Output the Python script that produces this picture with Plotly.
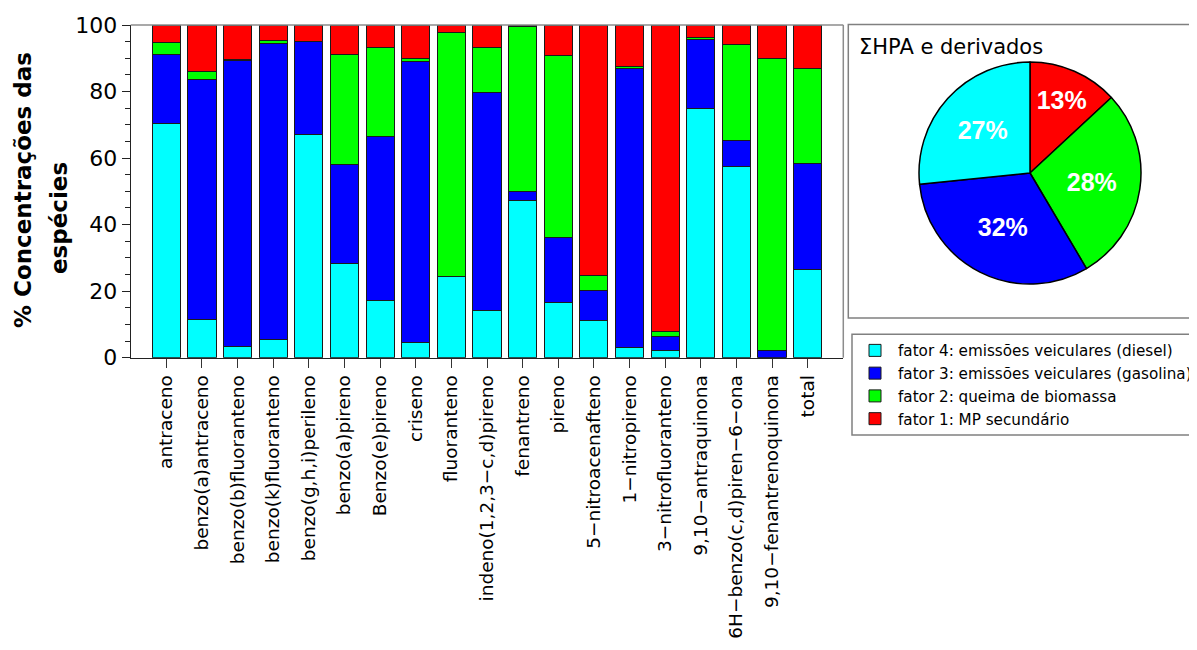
import plotly.graph_objects as go

# The page body has an 8px default margin, so the figure is sized to fit the window exactly.
OFF = 8
W, H = 1197 - OFF, 650 - OFF

categories = [
    "antraceno", "benzo(a)antraceno", "benzo(b)fluoranteno", "benzo(k)fluoranteno",
    "benzo(g,h,i)perileno", "benzo(a)pireno", "Benzo(e)pireno", "criseno",
    "fluoranteno", "indeno(1,2,3−c,d)pireno", "fenantreno", "pireno",
    "5−nitroacenafteno", "1−nitropireno", "3−nitrofluoranteno", "9,10−antraquinona",
    "6H−benzo(c,d)piren−6−ona", "9,10−fenantrenoquinona", "total",
]

fator4_diesel = [70.3, 11.5, 3.3, 5.6, 67.1, 28.2, 17.3, 4.5, 24.3, 14.1, 47.2, 16.7, 11.1, 3.0, 2.1, 74.8, 57.4, 0.0, 26.6]
fator3_gasolina = [20.7, 72.2, 86.1, 88.7, 28.0, 30.0, 49.1, 84.5, 0.0, 65.5, 2.8, 19.5, 9.0, 83.8, 4.2, 20.9, 7.8, 2.3, 31.9]
fator2_biomassa = [3.8, 2.3, 0.3, 1.0, 0.0, 33.0, 26.9, 1.0, 73.4, 13.7, 49.7, 54.5, 4.5, 0.7, 1.7, 0.5, 29.0, 87.5, 28.4]
fator1_secundario = [5.2, 14.0, 10.3, 4.7, 4.9, 8.8, 6.7, 10.0, 2.3, 6.7, 0.3, 9.3, 75.4, 12.5, 92.0, 3.8, 5.8, 10.2, 13.1]

series_names = [
    "fator 4: emissões veiculares (diesel)",
    "fator 3: emissões veiculares (gasolina)",
    "fator 2: queima de biomassa",
    "fator 1: MP secundário",
]
series_values = [fator4_diesel, fator3_gasolina, fator2_biomassa, fator1_secundario]
series_colors = ["#00FFFF", "#0000FF", "#00FF00", "#FF0000"]

pie_labels = ["fator 1: MP secundário", "fator 2: queima de biomassa",
              "fator 3: emissões veiculares (gasolina)", "fator 4: emissões veiculares (diesel)"]
pie_values = [13.1, 28.4, 31.9, 26.6]
pie_colors = ["#FF0000", "#00FF00", "#0000FF", "#00FFFF"]

y_ticks = [0, 20, 40, 60, 80, 100]


def fx(px):
    return (px - OFF) / W


def fy(py):
    return 1 - (py - OFF) / H


fig = go.Figure()
for i, (name, vals, col) in enumerate(zip(series_names, series_values, series_colors)):
    fig.add_trace(go.Bar(
        x=list(range(len(categories))), y=vals, name=name,
        marker=dict(color=col, line=dict(color="#1a1a1a", width=1)),
        legendgroup=f"g{i}",
    ))

fig.add_trace(go.Pie(
    labels=pie_labels, values=pie_values, sort=False, direction="clockwise", rotation=0,
    marker=dict(colors=pie_colors, line=dict(color="black", width=1.5)),
    texttemplate="%{percent:.0%}", textposition="inside", insidetextorientation="horizontal",
    textfont=dict(family="Liberation Sans", size=25, color="white", weight="bold"),
    domain=dict(x=[fx(919), fx(1141)], y=[fy(284), fy(62)]),
    showlegend=False, hoverinfo="label+percent",
))

fig.update_layout(
    width=W, height=H,
    margin=dict(l=0, r=0, t=0, b=0, autoexpand=False),
    paper_bgcolor="white", plot_bgcolor="white",
    barmode="stack", bargap=0.21,
    font=dict(family="DejaVu Sans", color="black"),
    xaxis=dict(
        domain=[fx(130.7), fx(843.3)], range=[-1, 19],
        tickmode="array", tickvals=list(range(len(categories))), ticktext=categories,
        tickangle=-90, tickfont=dict(size=18.5, family="DejaVu Sans"),
        ticks="outside", ticklen=9, tickcolor="#333", showline=True, linecolor="#222",
        linewidth=1, showgrid=False, zeroline=False, automargin=False,
    ),
    yaxis=dict(
        domain=[fy(357.7), fy(25)], range=[0, 100],
        tickmode="array", tickvals=y_ticks,
        tickfont=dict(size=22, family="DejaVu Sans"),
        ticks="outside", ticklen=8, tickcolor="#222",
        minor=dict(dtick=5, ticks="outside", ticklen=5, tickcolor="#222"),
        showline=True, linecolor="#222", linewidth=1, showgrid=False, zeroline=False,
        automargin=False,
    ),
    legend=dict(
        x=fx(852), y=fy(334), xanchor="left", yanchor="top",
        borderwidth=0, bgcolor="rgba(0,0,0,0)",
        font=dict(size=15.2, family="DejaVu Sans"), traceorder="normal",
        tracegroupgap=2, itemwidth=36,
    ),
    shapes=[
        dict(type="line", xref="paper", yref="paper", x0=fx(130.7), x1=fx(843.3), y0=fy(25), y1=fy(25),
             line=dict(color="#8c8c8c", width=1.5)),
        dict(type="line", xref="paper", yref="paper", x0=fx(843.3), x1=fx(843.3), y0=fy(25), y1=fy(357.7),
             line=dict(color="#8c8c8c", width=1.5)),
        dict(type="rect", xref="paper", yref="paper", x0=fx(848.3), x1=fx(1205), y0=fy(318), y1=fy(24.5),
             line=dict(color="#808080", width=1.5)),
        dict(type="rect", xref="paper", yref="paper", x0=fx(852), x1=fx(1205), y0=fy(435), y1=fy(334.3),
             line=dict(color="#808080", width=1.5)),
    ],
    annotations=[
        dict(text="ΣHPA e derivados", xref="paper", yref="paper", x=fx(857), y=fy(47),
             xanchor="left", yanchor="middle", showarrow=False,
             font=dict(size=21, family="DejaVu Sans", color="black")),
        dict(text="<b>% Concentrações das</b>", xref="paper", yref="paper", x=fx(23), y=fy(190),
             xanchor="center", yanchor="middle", textangle=-90, showarrow=False,
             font=dict(size=23, family="DejaVu Sans", color="black")),
        dict(text="<b>espécies</b>", xref="paper", yref="paper", x=fx(59), y=fy(218),
             xanchor="center", yanchor="middle", textangle=-90, showarrow=False,
             font=dict(size=23, family="DejaVu Sans", color="black")),
    ],
)

fig.write_html("out.html")
